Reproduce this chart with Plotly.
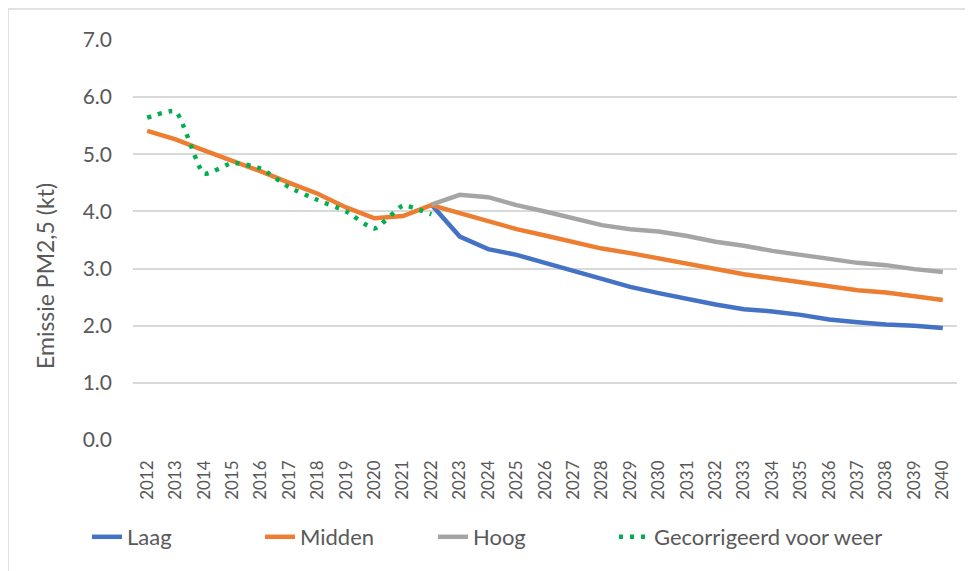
import plotly.graph_objects as go

years = [str(y) for y in range(2012, 2041)]

laag = [None]*10 + [4.12, 3.56, 3.34, 3.24, 3.10, 2.96, 2.82, 2.68, 2.57, 2.47,
                    2.37, 2.29, 2.25, 2.19, 2.11, 2.06, 2.02, 2.00, 1.96]
midden = [5.41, 5.26, 5.07, 4.89, 4.70, 4.50, 4.31, 4.07, 3.88, 3.92,
          4.11, 3.97, 3.82, 3.69, 3.58, 3.47, 3.35, 3.27, 3.18, 3.08,
          2.98, 2.90, 2.83, 2.76, 2.68, 2.62, 2.58, 2.51, 2.45]
hoog = [None]*10 + [4.12, 4.29, 4.25, 4.11, 4.00, 3.88, 3.76, 3.69, 3.65, 3.57,
                    3.47, 3.40, 3.31, 3.24, 3.17, 3.10, 3.06, 2.99, 2.94]
gecorrigeerd = [5.64, 5.75, 4.66, 4.85, 4.75, 4.42, 4.20, 4.00, 3.70, 4.10, 3.95] + [None]*18

y_ticks = [0, 1, 2, 3, 4, 5, 6, 7]

FONT = "Lato, 'Open Sans', sans-serif"
TXT = "#595959"

# page body has an 8px margin, so the figure is drawn 8px right/down
L, T, PW, PH = 125, 32, 824, 400
W, H = 973, 571

fig = go.Figure()
fig.add_trace(go.Scatter(x=years, y=laag, name="Laag", mode="lines",
                         line=dict(color="#4472C4", width=4.5)))
fig.add_trace(go.Scatter(x=years, y=midden, name="Midden", mode="lines",
                         line=dict(color="#ED7D31", width=4.5)))
fig.add_trace(go.Scatter(x=years, y=hoog, name="Hoog", mode="lines",
                         line=dict(color="#A5A5A5", width=4.5)))
fig.add_trace(go.Scatter(x=years, y=gecorrigeerd, name="Gecorrigeerd voor weer", mode="lines",
                         legend="legend2",
                         line=dict(color="#00B050", width=4.5, dash="4px,7px",
                                   shape="spline", smoothing=0.5)))

legend_y = (T + PH - 529) / PH

fig.update_layout(
    width=W, height=H,
    margin=dict(l=L, r=W - L - PW, t=T, b=H - T - PH, autoexpand=False),
    paper_bgcolor="white", plot_bgcolor="white",
    font=dict(family=FONT, color=TXT),
    xaxis=dict(type="category", range=[-0.5, 28.5], tickangle=-90,
               tickfont=dict(size=17, color=TXT), showgrid=False,
               showline=False, ticks="", fixedrange=True, automargin=False,
               ticklabelstandoff=16),
    yaxis=dict(range=[0, 7], tickvals=y_ticks, tickformat=".1f",
               tickfont=dict(size=21, color=TXT), gridcolor="#D9D9D9", gridwidth=1.5,
               zeroline=False, showline=False, ticks="", ticklabelstandoff=20,
               automargin=False),
    legend=dict(orientation="h", x=(79 - L) / PW, xanchor="left",
                y=legend_y, yanchor="middle",
                font=dict(size=22, color=TXT), tracegroupgap=0,
                entrywidth=128, entrywidthmode="pixels"),
    legend2=dict(orientation="h", x=(606 - L) / PW, xanchor="left",
                 y=legend_y, yanchor="middle",
                 font=dict(size=22, color=TXT), tracegroupgap=0),
    showlegend=True,
)

fig.add_annotation(text="Emissie PM2,5 (kt)", textangle=-90, showarrow=False,
                   xref="paper", yref="paper", x=(37 - L) / PW, y=(T + PH - 268) / PH,
                   xanchor="center", yanchor="middle",
                   font=dict(size=23, color=TXT, family=FONT))

# chart area border (light grey)
fig.add_shape(type="rect", xref="paper", yref="paper",
              x0=(0 - L) / PW, x1=1.2, y0=-0.5, y1=(T + PH - 1) / PH,
              line=dict(color="#D9D9D9", width=1.5), layer="below")

fig.write_html("out.html")
